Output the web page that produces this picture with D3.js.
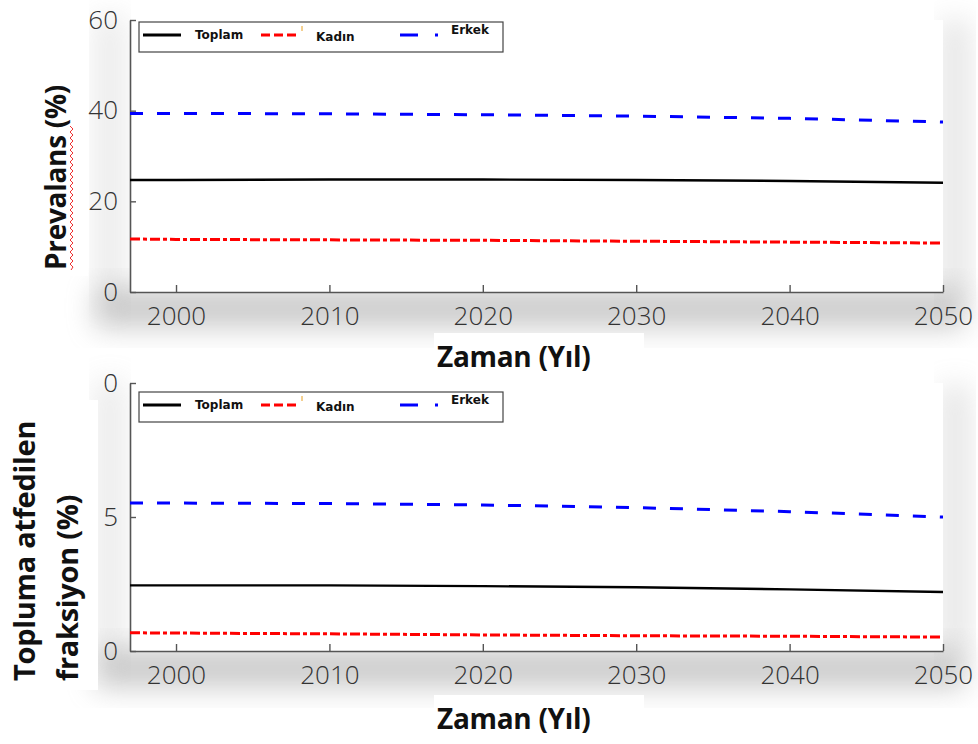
<!DOCTYPE html>
<html>
<head>
<meta charset="utf-8">
<script src="https://cdn.jsdelivr.net/npm/d3@7"></script>
<style>
  body { margin: 0; background: #fff; }
  svg { display: block; }
  .tick text { font-family: "Open Sans", sans-serif; font-weight: 300; font-size: 26px; fill: #333; }
  .lab { font-family: "Open Sans", sans-serif; font-weight: 700; fill: #111; }
  .leg { font-family: "DejaVu Sans", sans-serif; font-weight: 700; font-size: 12px; fill: #111; }
</style>
</head>
<body>
<script>
const years = [1997, 2000, 2010, 2020, 2030, 2040, 2050];
const xTicks = [2000, 2010, 2020, 2030, 2040, 2050];

// Prevalans (%)
const prevToplam = [24.7, 24.7, 24.8, 24.8, 24.7, 24.5, 24.1];
const prevKadin  = [11.7, 11.6, 11.5, 11.4, 11.2, 11.0, 10.8];
const prevErkek  = [39.4, 39.4, 39.3, 39.1, 38.8, 38.3, 37.5];
const prevTicks = [0, 20, 40, 60];
const prevTickLabels = ["0", "20", "40", "60"];

// Topluma atfedilen fraksiyon (%)
const fracToplam = [2.45, 2.45, 2.45, 2.42, 2.38, 2.3, 2.2];
const fracKadin  = [0.68, 0.67, 0.64, 0.6, 0.57, 0.55, 0.52];
const fracErkek  = [5.52, 5.52, 5.5, 5.45, 5.35, 5.2, 5.0];
const fracTicks = [0, 5, 10];
const fracTickLabels = ["0", "5", "0"];

const seriesNames = ["Toplam", "Kadın", "Erkek"];

const W = 978, H = 744;
const svg = d3.select("body").append("svg").attr("width", W).attr("height", H);

// soft grey shading like the scanned figure
const defs = svg.append("defs");
defs.append("filter").attr("id", "blur").attr("x", "-20%").attr("y", "-50%").attr("width", "140%").attr("height", "200%")
  .append("feGaussianBlur").attr("stdDeviation", 14);

function shade(x, y, w, h, op) {
  svg.append("rect").attr("x", x).attr("y", y).attr("width", w).attr("height", h)
    .attr("fill", "#9a9a9a").attr("opacity", op).attr("filter", "url(#blur)");
}
shade(95, 288, 870, 40, 0.5);
shade(95, 648, 870, 40, 0.5);
shade(95, 15, 30, 290, 0.2);
shade(95, 380, 30, 280, 0.2);
shade(940, 20, 30, 280, 0.25);
shade(940, 385, 30, 270, 0.25);

function panel(cfg) {
  const x = d3.scaleLinear().domain([1997, 2050]).range([130, 943]);
  const y = d3.scaleLinear().domain(cfg.yDomain).range([cfg.bottom, cfg.top]);

  svg.append("rect").attr("x", 130).attr("y", cfg.top).attr("width", 813).attr("height", cfg.bottom - cfg.top)
    .attr("fill", "#fff");

  const xa = svg.append("g").attr("transform", `translate(0,${cfg.bottom})`)
    .call(d3.axisBottom(x).tickValues(xTicks).tickFormat(d3.format("d")).tickSizeInner(-7).tickSizeOuter(0).tickPadding(17));
  const ya = svg.append("g").attr("transform", "translate(130,0)")
    .call(d3.axisLeft(y).tickValues(cfg.yTicks).tickFormat((d, i) => cfg.yLabels[i]).tickSizeInner(-6).tickSizeOuter(0).tickPadding(12));
  [xa, ya].forEach(a => {
    a.select(".domain").attr("stroke", "#555").attr("stroke-width", 1.6);
    a.selectAll(".tick line").attr("stroke", "#555").attr("stroke-width", 1.4);
  });
  xa.selectAll(".tick text").attr("dy", "0.6em");

  const line = d3.line().x((d, i) => x(years[i])).y(d => y(d));
  const styles = [
    { data: cfg.toplam, color: "#000", dash: null, w: 2.4 },
    { data: cfg.kadin, color: "#f00", dash: "10,3,4,3", w: 3 },
    { data: cfg.erkek, color: "#00f", dash: "13,14", w: 3 }
  ];
  styles.forEach(s => {
    svg.append("path").datum(s.data).attr("d", line).attr("fill", "none")
      .attr("stroke", s.color).attr("stroke-width", s.w).attr("stroke-dasharray", s.dash);
  });

  // legend
  const ly = cfg.legTop;
  svg.append("rect").attr("x", 139).attr("y", ly).attr("width", 364).attr("height", 30)
    .attr("fill", "#fff").attr("stroke", "#444").attr("stroke-width", 1.2);
  const cy = ly + 13;
  svg.append("line").attr("x1", 143).attr("x2", 181).attr("y1", cy).attr("y2", cy).attr("stroke", "#000").attr("stroke-width", 3);
  svg.append("text").attr("class", "leg").attr("x", 195).attr("y", cy + 4).text(seriesNames[0]);
  svg.append("line").attr("x1", 261).attr("x2", 297).attr("y1", cy).attr("y2", cy).attr("stroke", "#f00").attr("stroke-width", 3)
    .attr("stroke-dasharray", "9,4");
  svg.append("line").attr("x1", 302).attr("x2", 302).attr("y1", cy - 9).attr("y2", cy - 4).attr("stroke", "#e8a020").attr("stroke-width", 1);
  svg.append("text").attr("class", "leg").attr("x", 316).attr("y", cy + 6).text(seriesNames[1]);
  svg.append("line").attr("x1", 400).attr("x2", 418).attr("y1", cy).attr("y2", cy).attr("stroke", "#00f").attr("stroke-width", 3);
  svg.append("line").attr("x1", 435).attr("x2", 438).attr("y1", cy).attr("y2", cy).attr("stroke", "#00f").attr("stroke-width", 3);
  svg.append("text").attr("class", "leg").attr("x", 451).attr("y", cy - 1).text(seriesNames[2]);

  // x label on a white patch
  svg.append("rect").attr("x", 434).attr("y", cfg.xLabY - 24).attr("width", 210).attr("height", 46).attr("fill", "#fff");
  svg.append("text").attr("class", "lab").attr("x", 437).attr("y", cfg.xLabY + 10)
    .attr("font-size", 28).attr("letter-spacing", -0.3).text("Zaman (Yıl)");
}

panel({ top: 20, bottom: 292, yDomain: [0, 60], yTicks: prevTicks, yLabels: prevTickLabels,
  toplam: prevToplam, kadin: prevKadin, erkek: prevErkek, legTop: 22, xLabY: 357 });
panel({ top: 383, bottom: 651, yDomain: [0, 10], yTicks: fracTicks, yLabels: fracTickLabels,
  toplam: fracToplam, kadin: fracKadin, erkek: fracErkek, legTop: 392, xLabY: 719 });

// y labels
svg.append("rect").attr("x", 34).attr("y", 68).attr("width", 54).attr("height", 208).attr("fill", "#fff");
svg.append("text").attr("class", "lab").attr("font-size", 28)
  .attr("transform", "translate(66,270) rotate(-90)").attr("letter-spacing", -0.3).text("Prevalans (%)");
// spell-check squiggle under "Prevalans"
const sq = d3.path();
sq.moveTo(71, 270);
for (let yy = 270, k = 0; yy > 128; yy -= 3, k++) sq.lineTo(k % 2 ? 70 : 73, yy - 3);
svg.append("path").attr("d", sq.toString()).attr("fill", "none").attr("stroke", "#e33").attr("stroke-width", 1);

svg.append("rect").attr("x", 8).attr("y", 400).attr("width", 90).attr("height", 290).attr("fill", "#fff");
svg.append("text").attr("class", "lab").attr("font-size", 29)
  .attr("transform", "translate(35,681) rotate(-90)").attr("letter-spacing", -0.3).text("Topluma atfedilen");
svg.append("text").attr("class", "lab").attr("font-size", 29)
  .attr("transform", "translate(78,681) rotate(-90)").attr("letter-spacing", -0.3).text("fraksiyon (%)");
</script>
</body>
</html>
